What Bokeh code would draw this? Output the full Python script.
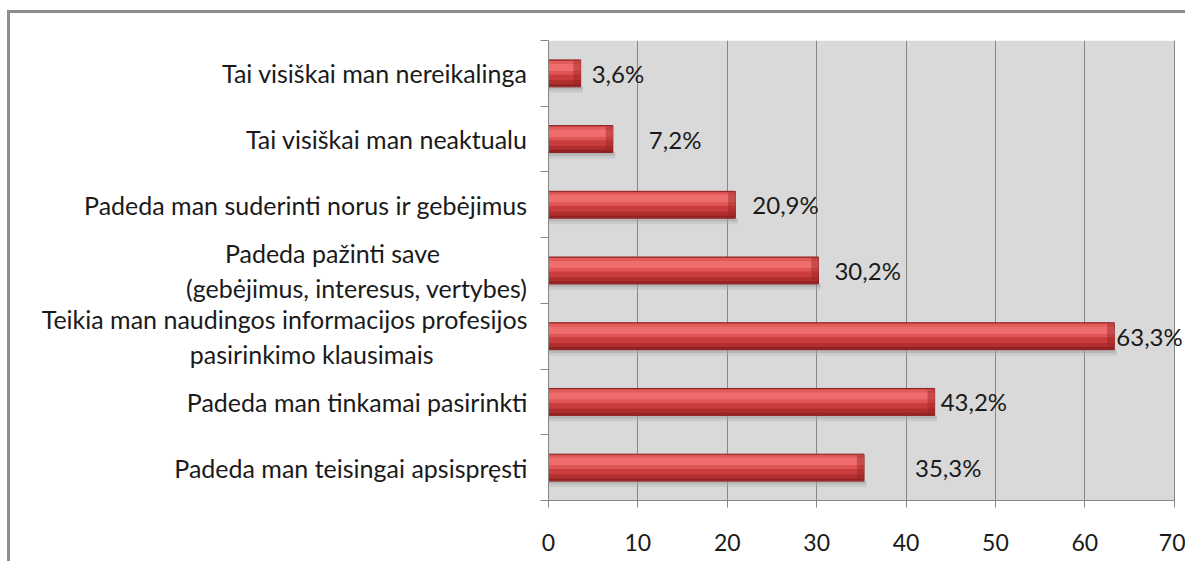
from bokeh.plotting import figure
from bokeh.layouts import column
from bokeh.models import Range1d, FixedTicker, ColumnDataSource, LabelSet, BoxAnnotation
from bokeh.embed import file_html
from bokeh.resources import INLINE
from bokeh.core.properties import value

# ---- data (top to bottom) ----
categories = [
    "Tai visiškai man nereikalinga",
    "Tai visiškai man neaktualu",
    "Padeda man suderinti norus ir gebėjimus",
    "Padeda pažinti save\u2002\u2002\u2002\u2002\u2002\u2002\u2002\n(gebėjimus, interesus, vertybes)",
    "Teikia man naudingos informacijos profesijos\npasirinkimo klausimais\u2002\u2002\u2002\u2002\u2002\u2002\u2002\u00a0",
    "Padeda man tinkamai pasirinkti",
    "Padeda man teisingai apsispręsti",
]
values = [3.6, 7.2, 20.9, 30.2, 63.3, 43.2, 35.3]
value_labels = ["3,6%", "7,2%", "20,9%", "30,2%", "63,3%", "43,2%", "35,3%"]
x_ticks = [0, 10, 20, 30, 40, 50, 60, 70]
x_max = 70

# ---- styling ----
label_offsets_px = [11, 36, 17, 16, 2, 6, 51]
FONT = "Lato"
n = len(categories)
centers = [i + 0.5 for i in range(n)]

# frame: 625px for 70 units; extended to the canvas edge so the last label is not clipped
p = figure(width=1178, height=551, output_backend="svg", toolbar_location=None,
           x_range=Range1d(0, 71.6), y_range=Range1d(n, 0),
           min_border_left=538, min_border_right=0, min_border_top=27, min_border_bottom=64)
p.styles = {"border-left": "3px solid #8c8c8c", "border-top": "3px solid #8c8c8c"}
p.background_fill_color = "white"
p.border_fill_color = "white"
p.outline_line_color = None

# plot area background (0..70)
p.add_layout(BoxAnnotation(left=0, right=x_max, fill_color="#d9d9d9", fill_alpha=1,
                           line_color=None, level="image"))

# grid
p.ygrid.visible = False
p.xgrid.grid_line_color = "#868686"
p.xgrid.grid_line_width = 1
p.xgrid.level = "underlay"

# x axis
xa = p.xaxis[0]
xa.ticker = FixedTicker(ticks=x_ticks)
xa.bounds = (0, x_max)
xa.axis_line_color = "#868686"
xa.major_tick_line_color = "#868686"
xa.major_tick_out = 7
xa.major_tick_in = 0
xa.minor_tick_line_color = None
xa.major_label_standoff = 26
xa.major_label_text_font = FONT
xa.major_label_text_font_size = "23px"
xa.major_label_text_color = "#1a1a1a"

# y axis
ya = p.yaxis[0]
ya.ticker = FixedTicker(ticks=centers, minor_ticks=list(range(n + 1)))
ya.major_label_overrides = {c: lab for c, lab in zip(centers, categories)}
ya.axis_line_color = "#868686"
ya.major_tick_line_color = None
ya.major_tick_out = 0
ya.major_tick_in = 0
ya.minor_tick_line_color = "#868686"
ya.minor_tick_out = 8
ya.minor_tick_in = 0
ya.major_label_standoff = 13
ya.major_label_text_font = FONT
ya.major_label_text_font_size = "25px"
ya.major_label_text_color = "#1a1a1a"
ya.major_label_text_line_height = 1.17

# bars with a pseudo-3D cylinder look (stacked bands)
src = ColumnDataSource(dict(y=centers, v=values, lab=value_labels, off=label_offsets_px))
H = 0.41

def band(t0, t1, color, alpha=1.0, extra_right=0.0):
    ys = [c + ((t0 + t1) / 2 - 0.5) * H for c in centers]
    b = ColumnDataSource(dict(y=ys, v=[v + extra_right for v in values]))
    p.hbar(y="y", left=0, right="v", height=(t1 - t0) * H, source=b,
           fill_color=color, fill_alpha=alpha, line_color=None)

# soft shadow under the bar
band(1.0, 1.12, "#9a9a9a", 0.55, 0.25)
band(1.12, 1.22, "#b0b0b0", 0.35, 0.25)

p.hbar(y="y", left=0, right="v", height=H, source=src,
       fill_color="#c83c3c", line_color="#8a2020", line_width=1)
band(0.04, 0.14, "#e35c5c")
band(0.14, 0.42, "#ef6d6d")
band(0.42, 0.55, "#e05656")
band(0.55, 0.75, "#c93d3d")
band(0.75, 0.90, "#b02e2e")
band(0.90, 0.98, "#8f2121")

# right end cap bevel
cap = ColumnDataSource(dict(y=centers, l=[v - 0.8 for v in values], v=values))
p.hbar(y="y", left="l", right="v", height=H * 0.92, source=cap,
       fill_color="#9c2424", fill_alpha=0.45, line_color=None)

# value labels
p.add_layout(LabelSet(x="v", y="y", text="lab", source=src, x_offset="off",
                      text_font=value(FONT), text_font_size="24px", text_color="#1a1a1a",
                      text_align="left", text_baseline="middle"))

root = column(p, styles={"padding-left": "7px", "padding-top": "10px"})
open("out.html", "w").write(file_html(root, INLINE))
